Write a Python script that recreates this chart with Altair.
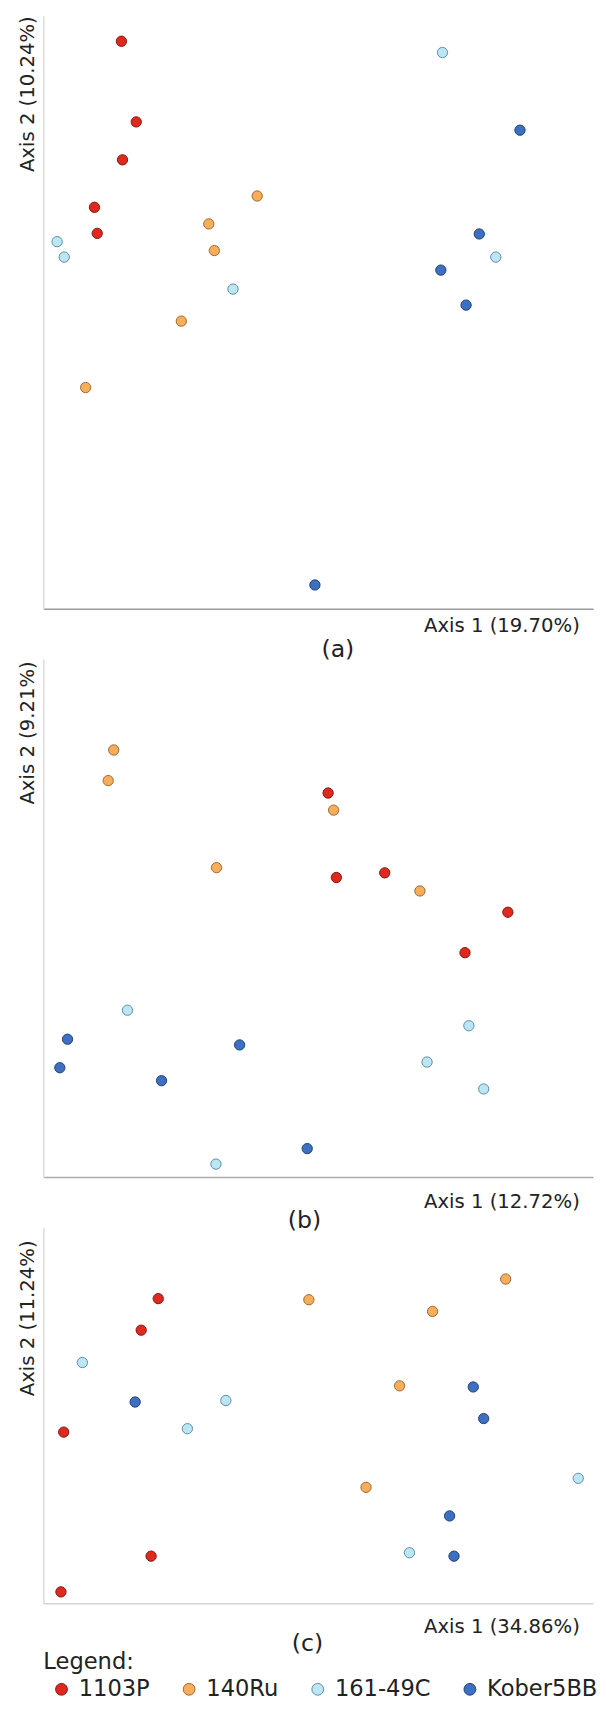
import altair as alt
import pandas as pd

groups = ["1103P", "140Ru", "161-49C", "Kober5BB"]
fill_colors = ["#e0281e", "#f7ae5c", "#bde6f5", "#3d70c0"]
stroke_colors = ["#7d1a12", "#9a6a2f", "#5a8ea3", "#213f75"]

# ---- panel (a) : Axis 1 (19.70%) / Axis 2 (10.24%)
a_1103P_x = [14.2, 16.9, 14.4, 9.3, 9.8]
a_1103P_y = [95.7, 82.1, 75.7, 67.7, 63.3]
a_140Ru_x = [38.9, 30.1, 31.1, 25.1, 7.7]
a_140Ru_y = [69.6, 64.9, 60.4, 48.5, 37.3]
a_161_x = [2.5, 3.8, 34.5, 72.6, 82.3]
a_161_y = [61.9, 59.3, 53.9, 93.8, 59.3]
a_kober_x = [86.7, 79.3, 72.3, 76.9, 49.4]
a_kober_y = [80.7, 63.2, 57.1, 51.2, 4.0]

# ---- panel (b) : Axis 1 (12.72%) / Axis 2 (9.21%)
b_1103P_x = [51.8, 53.3, 62.1, 84.5, 76.7]
b_1103P_y = [74.1, 57.8, 58.7, 51.1, 43.3]
b_140Ru_x = [12.8, 11.8, 31.5, 52.8, 68.5]
b_140Ru_y = [82.4, 76.5, 59.7, 70.8, 55.2]
b_161_x = [15.3, 77.4, 69.8, 80.1, 31.4]
b_161_y = [32.2, 29.2, 22.2, 17.0, 2.5]
b_kober_x = [4.4, 3.0, 21.5, 35.7, 48.0]
b_kober_y = [26.6, 21.1, 18.6, 25.5, 5.5]

# ---- panel (c) : Axis 1 (34.86%) / Axis 2 (11.24%)
c_1103P_x = [20.9, 17.8, 3.7, 19.6, 3.2]
c_1103P_y = [81.0, 72.6, 45.5, 12.5, 3.0]
c_140Ru_x = [48.3, 70.8, 84.1, 64.8, 58.7]
c_140Ru_y = [80.7, 77.6, 86.2, 57.8, 30.8]
c_161_x = [7.1, 33.2, 26.2, 97.3, 66.6]
c_161_y = [64.0, 53.9, 46.4, 33.2, 13.4]
c_kober_x = [16.7, 78.2, 80.1, 73.9, 74.7]
c_kober_y = [53.5, 57.5, 49.1, 23.2, 12.5]


def make_df(series):
    rows = []
    for g, xs, ys in series:
        for xv, yv in zip(xs, ys):
            rows.append({"group": g, "x": xv, "y": yv})
    return pd.DataFrame(rows)


df_a = make_df([("1103P", a_1103P_x, a_1103P_y), ("140Ru", a_140Ru_x, a_140Ru_y),
                ("161-49C", a_161_x, a_161_y), ("Kober5BB", a_kober_x, a_kober_y)])
df_b = make_df([("1103P", b_1103P_x, b_1103P_y), ("140Ru", b_140Ru_x, b_140Ru_y),
                ("161-49C", b_161_x, b_161_y), ("Kober5BB", b_kober_x, b_kober_y)])
df_c = make_df([("1103P", c_1103P_x, c_1103P_y), ("140Ru", c_140Ru_x, c_140Ru_y),
                ("161-49C", c_161_x, c_161_y), ("Kober5BB", c_kober_x, c_kober_y)])

FONT = "DejaVu Sans"
TXT = "#222222"
W = 560

leg = alt.Legend(
    title="Legend:", orient="none", legendX=0, legendY=1666, direction="horizontal",
    symbolType="circle", symbolSize=144, symbolStrokeWidth=1, symbolOffset=7,
    labelOffset=6, columnPadding=21, labelFontSize=23, labelFont=FONT, labelColor=TXT,
    titleFontSize=23, titleFont=FONT, titleFontWeight="normal", titleColor=TXT,
    titlePadding=4, titleAnchor="start", titleOrient="top", padding=0,
)


def panel(df, h, xtitle, ytitle, label, xdom_color, xtitle_y, ytitle_y, label_offset, label_dx):
    return alt.Chart(df).mark_circle(size=110, opacity=1, strokeWidth=1).encode(
        x=alt.X("x:Q", scale=alt.Scale(domain=[0, 100], nice=False, zero=False),
                axis=alt.Axis(title=xtitle, labels=False, ticks=False, grid=False,
                              domainColor=xdom_color, domainWidth=1.5,
                              titleX=W - 14, titleY=xtitle_y, titleAlign="right",
                              titleAnchor="end", titleBaseline="alphabetic",
                              titleFontSize=20, titleFont=FONT, titleFontWeight="normal",
                              titleColor=TXT)),
        y=alt.Y("y:Q", scale=alt.Scale(domain=[0, 100], nice=False, zero=False),
                axis=alt.Axis(title=ytitle, labels=False, ticks=False, grid=False,
                              domainColor="#dcdcdc", domainWidth=1.5,
                              titleAngle=270, titleX=-10, titleY=ytitle_y,
                              titleAlign="right", titleBaseline="alphabetic",
                              titleFontSize=20, titleFont=FONT, titleFontWeight="normal",
                              titleColor=TXT)),
        fill=alt.Fill("group:N", scale=alt.Scale(domain=groups, range=fill_colors), legend=leg),
        stroke=alt.Stroke("group:N", scale=alt.Scale(domain=groups, range=stroke_colors), legend=leg),
    ).properties(
        width=W, height=h,
        title=alt.TitleParams(label, orient="bottom", frame="group", anchor="middle",
                              baseline="alphabetic", offset=label_offset, dx=label_dx,
                              fontSize=24, font=FONT, fontWeight="normal", color=TXT),
    )


pa = panel(df_a, 604, "Axis 1 (19.70%)", "Axis 2 (10.24%)", "(a)", "#9a9a9a", 23, 0, 22, 20)
pb = panel(df_b, 528, "Axis 1 (12.72%)", "Axis 2 (9.21%)", "(b)", "#aaaaaa", 31, 2, 17, -14)
pc = panel(df_c, 383, "Axis 1 (34.86%)", "Axis 2 (11.24%)", "(c)", "#d4d4d4", 30, 13, 15, -11)

chart = alt.vconcat(pa, pb, pc, spacing=51, bounds="flush").properties(
    padding={"left": 10, "top": -8, "right": 0, "bottom": -4}
).configure(background="white").configure_view(stroke=None)

chart.save("out.html", embed_options={"renderer": "svg", "actions": False})
